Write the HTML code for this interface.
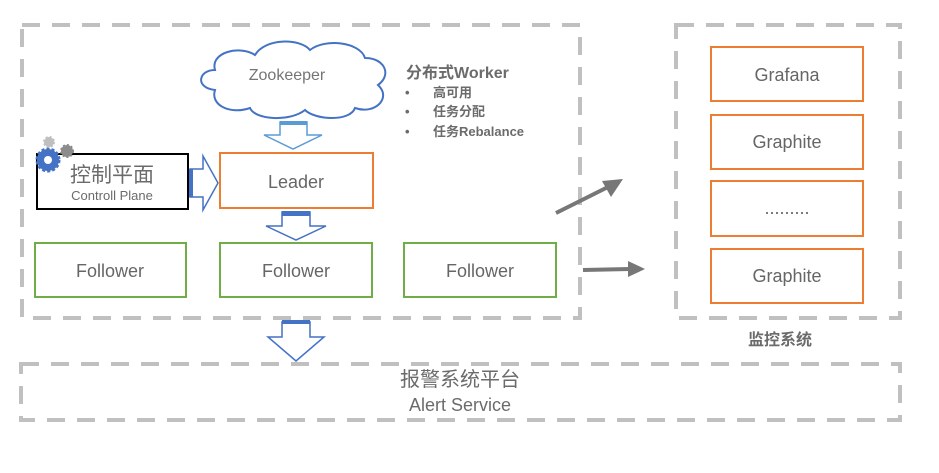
<!DOCTYPE html>
<html><head><meta charset="utf-8"><style>
body{margin:0;background:#fff;width:939px;height:468px;overflow:hidden}
</style></head><body>
<svg width="939" height="468" xmlns="http://www.w3.org/2000/svg" font-family="'Liberation Sans','Noto Sans CJK SC',sans-serif">
<g fill="none" stroke="#c0c0c0" stroke-width="4" stroke-dasharray="18,12">
<rect x="22" y="25" width="558" height="293"/>
<rect x="676" y="25" width="224" height="293"/>
<rect x="21" y="364" width="879" height="56"/>
</g>
<!-- cloud -->
<path d="M215,90 C195,88 198,70 215,70 C210,52 240,45 255,55 C265,38 300,38 310,50 C325,38 360,42 365,58 C385,58 392,75 378,85 C392,98 375,115 355,108 C350,122 315,120 305,110 C290,122 255,120 250,108 C230,115 210,105 215,90 Z" fill="#fff" stroke="#4472c4" stroke-width="2"/>
<text x="287" y="80" font-size="16" fill="#757575" text-anchor="middle">Zookeeper</text>
<text x="406" y="78" font-size="16" font-weight="bold" fill="#6b6b6b">分布式Worker</text>
<g font-size="13" font-weight="bold" fill="#6b6b6b">
<text x="405" y="97">•</text><text x="433" y="97">高可用</text>
<text x="405" y="116">•</text><text x="433" y="116">任务分配</text>
<text x="405" y="136">•</text><text x="433" y="136">任务Rebalance</text>
</g>
<!-- zk arrow -->
<path d="M280,122 L307,122 L307,135 L322,135 L293,149 L264,135 L280,135 Z" fill="#fff" stroke="#5b9bd5" stroke-width="1.5"/>
<rect x="280" y="121" width="27" height="4" fill="#5b9bd5"/>
<!-- leader -->
<rect x="220" y="153" width="153" height="55" fill="#fff" stroke="#ed7d31" stroke-width="2"/>
<text x="296" y="188" font-size="18" fill="#666" text-anchor="middle">Leader</text>
<!-- control plane -->
<rect x="37" y="154" width="151" height="55" fill="#fff" stroke="#000" stroke-width="2"/>
<text x="112" y="182" font-size="21" fill="#6b6b6b" text-anchor="middle">控制平面</text>
<text x="112" y="200" font-size="13" fill="#6b6b6b" text-anchor="middle">Controll Plane</text>
<circle cx="48" cy="160" r="11" fill="#4472c4" stroke="#4472c4" stroke-width="3" stroke-dasharray="3,2"/>
<circle cx="48" cy="160" r="4" fill="#fff"/>
<circle cx="67" cy="151" r="6" fill="#8c8c8c" stroke="#8c8c8c" stroke-width="2" stroke-dasharray="2,2"/>
<circle cx="49" cy="142" r="5" fill="#bfbfbf" stroke="#bfbfbf" stroke-width="2" stroke-dasharray="2,2"/>
<!-- right arrow -->
<path d="M190,169 L203,169 L203,156 L218,183 L203,210 L203,197 L190,197 Z" fill="#fff" stroke="#4472c4" stroke-width="1.5"/>
<rect x="189" y="169" width="4" height="28" fill="#4472c4"/>
<!-- leader down arrow -->
<path d="M282,212 L310,212 L310,226 L326,226 L296,240 L266,226 L282,226 Z" fill="#fff" stroke="#4472c4" stroke-width="1.5"/>
<rect x="282" y="211" width="28" height="5" fill="#4472c4"/>
<!-- followers -->
<g fill="#fff" stroke="#70ad47" stroke-width="2">
<rect x="35" y="243" width="151" height="54"/>
<rect x="220" y="243" width="152" height="54"/>
<rect x="404" y="243" width="152" height="54"/>
</g>
<g font-size="18" fill="#666" text-anchor="middle">
<text x="110" y="277">Follower</text>
<text x="296" y="277">Follower</text>
<text x="480" y="277">Follower</text>
</g>
<!-- bottom down arrow -->
<path d="M282,322 L310,322 L310,337 L324,337 L296,361 L268,337 L282,337 Z" fill="#fff" stroke="#4472c4" stroke-width="1.5"/>
<rect x="282" y="320" width="28" height="4" fill="#4472c4"/>
<!-- gray arrows -->
<line x1="556" y1="213" x2="610" y2="186" stroke="#777" stroke-width="4"/>
<path d="M623,179 L602,181 L611,197 Z" fill="#777"/>
<line x1="583" y1="270" x2="630" y2="269" stroke="#777" stroke-width="4"/>
<path d="M645,269 L628,261 L628,277 Z" fill="#777"/>
<!-- monitoring -->
<g fill="#fff" stroke="#ed7d31" stroke-width="2">
<rect x="711" y="47" width="152" height="54"/>
<rect x="711" y="115" width="152" height="54"/>
<rect x="711" y="181" width="152" height="55"/>
<rect x="711" y="249" width="152" height="54"/>
</g>
<g font-size="18" fill="#666" text-anchor="middle">
<text x="787" y="81">Grafana</text>
<text x="787" y="148">Graphite</text>
<text x="787" y="214">.........</text>
<text x="787" y="282">Graphite</text>
</g>
<text x="780" y="345" font-size="16" font-weight="bold" fill="#6b6b6b" text-anchor="middle">监控系统</text>
<text x="460" y="386" font-size="20" fill="#6b6b6b" text-anchor="middle">报警系统平台</text>
<text x="460" y="411" font-size="18" fill="#6b6b6b" text-anchor="middle">Alert Service</text>
</svg>
</body></html>
